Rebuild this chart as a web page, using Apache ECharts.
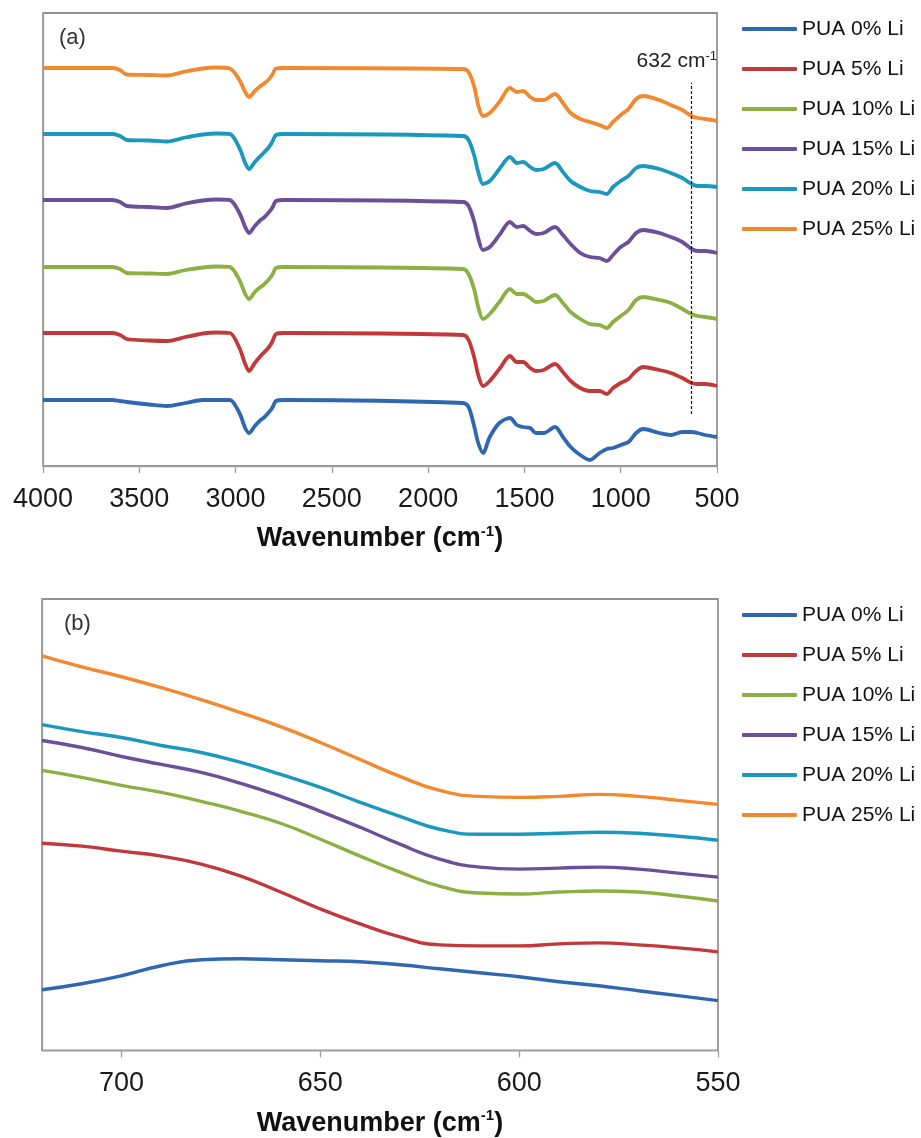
<!DOCTYPE html>
<html>
<head>
<meta charset="utf-8">
<title>PUA Li FTIR</title>
<script src="https://cdn.jsdelivr.net/npm/echarts@6/dist/echarts.min.js"></script>
<style>
  html, body { margin: 0; padding: 0; background: #fff; }
  #chart { width: 921px; height: 1138px; }
</style>
</head>
<body>
<div id="chart"></div>
<script>
// legend names / colours
var names = ['PUA 0% Li', 'PUA 5% Li', 'PUA 10% Li', 'PUA 15% Li', 'PUA 20% Li', 'PUA 25% Li'];
var colors = ['#2f67b1', '#c0393b', '#8db043', '#6c4f99', '#1b98bd', '#f2892f'];

// (a) full spectrum, wavenumber in cm-1, intensity in arbitrary units (stacked)
var wnA = [4000, 3640, 3600, 3565, 3450, 3356, 3260, 3170, 3100, 3030, 2980, 2950, 2930, 2900, 2870, 2855, 2830, 2810, 2790, 2750,
  1819, 1790, 1760, 1740, 1715, 1680, 1630, 1575, 1540, 1507, 1470, 1440, 1400, 1341, 1300, 1260, 1210, 1160, 1110, 1072,
  1040, 1000, 960, 920, 884, 800, 740, 680, 632, 600, 560, 500];

var pua0A = [6.6, 6.6, 6.5, 6.4, 6.15, 6.0, 6.3, 6.6, 6.6, 6.6, 5.3, 3.8, 3.3, 4.0, 4.6, 4.8, 5.3, 5.8, 6.5, 6.6,
  6.3, 5.9, 3.9, 2.3, 1.3, 2.9, 4.3, 4.8, 4.1, 3.9, 3.8, 3.3, 3.3, 3.9, 2.9, 1.9, 1.1, 0.6, 1.3, 1.7,
  1.8, 2.1, 2.4, 3.3, 3.7, 3.3, 3.1, 3.4, 3.4, 3.3, 3.1, 2.9];
var pua5A = [13.3, 13.3, 13.1, 12.7, 12.55, 12.5, 12.9, 13.25, 13.35, 13.3, 11.8, 10.2, 9.5, 10.3, 11.0, 11.3, 11.8, 12.4, 13.2, 13.3,
  13.1, 12.6, 10.8, 9.1, 8.0, 8.5, 9.7, 11.0, 10.4, 10.4, 9.8, 9.5, 9.6, 10.2, 9.4, 8.5, 7.8, 7.5, 7.5, 7.2,
  7.8, 8.3, 8.7, 9.5, 9.9, 9.6, 9.3, 8.8, 8.3, 8.2, 8.2, 8.0];
var pua10A = [19.9, 19.9, 19.7, 19.3, 19.25, 19.2, 19.6, 19.85, 19.95, 19.9, 18.6, 17.2, 16.7, 17.4, 17.9, 18.1, 18.6, 19.1, 19.8, 19.9,
  19.7, 19.2, 17.6, 15.9, 14.7, 15.2, 16.4, 17.7, 17.2, 17.2, 16.8, 16.4, 16.5, 17.1, 16.3, 15.4, 14.7, 14.2, 14.1, 13.8,
  14.4, 15.0, 15.6, 16.6, 16.9, 16.6, 16.3, 15.7, 15.2, 15.0, 14.9, 14.7];
var pua15A = [26.6, 26.6, 26.4, 26.0, 25.9, 25.8, 26.25, 26.55, 26.65, 26.6, 25.3, 23.9, 23.3, 24.0, 24.6, 24.8, 25.3, 25.8, 26.5, 26.6,
  26.4, 26.0, 24.4, 22.8, 21.6, 21.9, 23.1, 24.4, 23.9, 24.0, 23.5, 23.2, 23.3, 23.9, 23.1, 22.2, 21.3, 20.9, 20.8, 20.5,
  21.1, 21.9, 22.4, 23.3, 23.6, 23.3, 22.9, 22.4, 21.7, 21.5, 21.5, 21.3];
var pua20A = [33.2, 33.2, 33.0, 32.6, 32.55, 32.45, 32.85, 33.15, 33.25, 33.2, 31.8, 30.3, 29.7, 30.4, 31.0, 31.3, 31.8, 32.4, 33.1, 33.2,
  33.0, 32.6, 31.0, 29.4, 28.2, 28.5, 29.7, 30.9, 30.3, 30.4, 29.9, 29.6, 29.7, 30.3, 29.4, 28.5, 27.9, 27.5, 27.4, 27.2,
  27.9, 28.5, 29.0, 29.8, 30.0, 29.7, 29.3, 28.8, 28.2, 28.0, 28.0, 27.9];
var pua25A = [39.8, 39.8, 39.6, 39.15, 39.1, 39.05, 39.45, 39.75, 39.85, 39.75, 38.6, 37.4, 36.9, 37.5, 38.0, 38.2, 38.6, 39.1, 39.75, 39.8,
  39.7, 39.4, 37.9, 36.1, 35.0, 35.3, 36.4, 37.8, 37.4, 37.5, 36.9, 36.6, 36.6, 37.2, 36.3, 35.3, 34.7, 34.4, 34.1, 33.8,
  34.4, 35.1, 35.7, 36.7, 37.0, 36.6, 36.1, 35.6, 35.0, 34.8, 34.7, 34.5];

// (b) zoom 720-550 cm-1
var wnB = [720, 710, 700, 690, 680, 670, 660, 650, 640, 630, 620, 610, 600, 590, 580, 570, 560, 550];
var pua0B = [6.1, 6.7, 7.5, 8.5, 9.1, 9.2, 9.1, 9.0, 8.9, 8.6, 8.2, 7.8, 7.4, 6.9, 6.5, 6.0, 5.5, 5.0];
var pua5B = [20.8, 20.5, 20.0, 19.5, 18.7, 17.5, 15.9, 14.2, 12.7, 11.4, 10.6, 10.5, 10.5, 10.7, 10.8, 10.6, 10.3, 9.9];
var pua10B = [28.1, 27.4, 26.6, 25.9, 25.0, 24.0, 22.8, 21.2, 19.5, 17.9, 16.5, 15.8, 15.7, 15.9, 16.0, 15.9, 15.5, 15.0];
var pua15B = [31.1, 30.4, 29.5, 28.7, 27.9, 26.8, 25.5, 24.0, 22.4, 20.7, 19.2, 18.4, 18.2, 18.3, 18.4, 18.2, 17.8, 17.4];
var pua20B = [32.7, 32.0, 31.4, 30.6, 29.9, 28.9, 27.7, 26.4, 24.9, 23.5, 22.2, 21.7, 21.7, 21.8, 21.9, 21.8, 21.5, 21.1];
var pua25B = [39.6, 38.5, 37.5, 36.4, 35.2, 33.9, 32.5, 30.9, 29.2, 27.5, 26.1, 25.5, 25.4, 25.5, 25.7, 25.5, 25.1, 24.7];

var ticksA = [500, 1000, 1500, 2000, 2500, 3000, 3500, 4000];
var ticksB = [550, 600, 650, 700];

// dotted marker at 632 cm-1
var markWn = 632;
var markRange = [5.2, 38.3];

var specA = [pua0A, pua5A, pua10A, pua15A, pua20A, pua25A];
var specB = [pua0B, pua5B, pua10B, pua15B, pua20B, pua25B];

var FONT = '"Liberation Sans", Arial, Helvetica, sans-serif';

function pairs(xs, ys) {
  return xs.map(function (x, i) { return [x, ys[i]]; });
}

function xAxisFor(gridIndex, min, max, interval, ticks) {
  return {
    type: 'value',
    gridIndex: gridIndex,
    min: min,
    max: max,
    interval: interval,
    inverse: true,
    name: '{t|Wavenumber (cm}{s|-1}{t|)}',
    nameLocation: 'middle',
    nameGap: 58,
    nameTextStyle: {
      rich: {
        t: { fontFamily: FONT, fontSize: 27, fontWeight: 'bold', color: '#111', lineHeight: 30 },
        s: { fontFamily: FONT, fontSize: 15, fontWeight: 'bold', color: '#111', verticalAlign: 'top', lineHeight: 15 }
      }
    },
    axisLine: { show: true, lineStyle: { color: '#a0a0a0', width: 1.3 } },
    axisTick: { show: true, inside: false, length: 7, customValues: ticks, lineStyle: { color: '#a0a0a0', width: 1.3 } },
    axisLabel: {
      show: true, margin: 20, customValues: ticks,
      fontFamily: FONT, fontSize: 27, color: '#1a1a1a',
      formatter: function (v) { return String(v); }
    },
    splitLine: { show: false }
  };
}

function yAxisFor(gridIndex) {
  return {
    type: 'value',
    gridIndex: gridIndex,
    min: 0,
    max: 45.3,
    axisLine: { show: true, lineStyle: { color: '#a0a0a0', width: 1.3 } },
    axisTick: { show: false },
    axisLabel: { show: false },
    splitLine: { show: false }
  };
}

var series = [];
names.forEach(function (n, i) {
  var s = {
    name: n,
    type: 'line',
    xAxisIndex: 0,
    yAxisIndex: 0,
    data: pairs(wnA, specA[i]),
    showSymbol: false,
    smooth: 0.3,
    color: colors[i],
    lineStyle: { width: 3.8, color: colors[i] }
  };
  if (i === 0) {
    s.markLine = {
      silent: true,
      symbol: 'none',
      label: { show: false },
      lineStyle: { color: '#111', width: 1.2, type: [3, 2] },
      data: [[{ coord: [markWn, markRange[0]] }, { coord: [markWn, markRange[1]] }]]
    };
  }
  series.push(s);
});
names.forEach(function (n, i) {
  series.push({
    name: n,
    type: 'line',
    xAxisIndex: 1,
    yAxisIndex: 1,
    data: pairs(wnB, specB[i]),
    showSymbol: false,
    smooth: true,
    color: colors[i],
    lineStyle: { width: 3.4, color: colors[i] }
  });
});

function legendAt(top) {
  return {
    data: names,
    orient: 'vertical',
    left: 742,
    top: top,
    padding: 0,
    itemGap: 18,
    itemWidth: 55,
    itemHeight: 4,
    icon: 'roundRect',
    selectedMode: false,
    textStyle: { fontFamily: FONT, fontSize: 21, color: '#111', lineHeight: 22 }
  };
}

var option = {
  animation: false,
  backgroundColor: '#fff',
  grid: [
    { left: 43, top: 13, width: 674, height: 453, show: true, borderColor: '#6e6e6e', borderWidth: 1.3 },
    { left: 42, top: 599, width: 676, height: 453, show: true, borderColor: '#6e6e6e', borderWidth: 1.3 }
  ],
  legend: [legendAt(18), legendAt(604)],
  xAxis: [
    xAxisFor(0, 500, 4000, 500, ticksA),
    xAxisFor(1, 550, 720, 50, ticksB)
  ],
  yAxis: [yAxisFor(0), yAxisFor(1)],
  graphic: [
    { type: 'text', x: 59, y: 38, style: { text: '(a)', fontFamily: FONT, fontSize: 22, fill: '#333', verticalAlign: 'middle' } },
    { type: 'text', x: 64, y: 624, style: { text: '(b)', fontFamily: FONT, fontSize: 22, fill: '#333', verticalAlign: 'middle' } },
    {
      type: 'text', x: 717, y: 61,
      style: {
        text: '{n|632 cm}{s|-1}',
        align: 'right',
        verticalAlign: 'middle',
        rich: {
          n: { fontFamily: FONT, fontSize: 21, fill: '#222', lineHeight: 23 },
          s: { fontFamily: FONT, fontSize: 13, fill: '#222', verticalAlign: 'top', lineHeight: 13 }
        }
      }
    }
  ],
  series: series
};

var chart = echarts.init(document.getElementById('chart'), null, { renderer: 'canvas' });
chart.setOption(option);
</script>
</body>
</html>
